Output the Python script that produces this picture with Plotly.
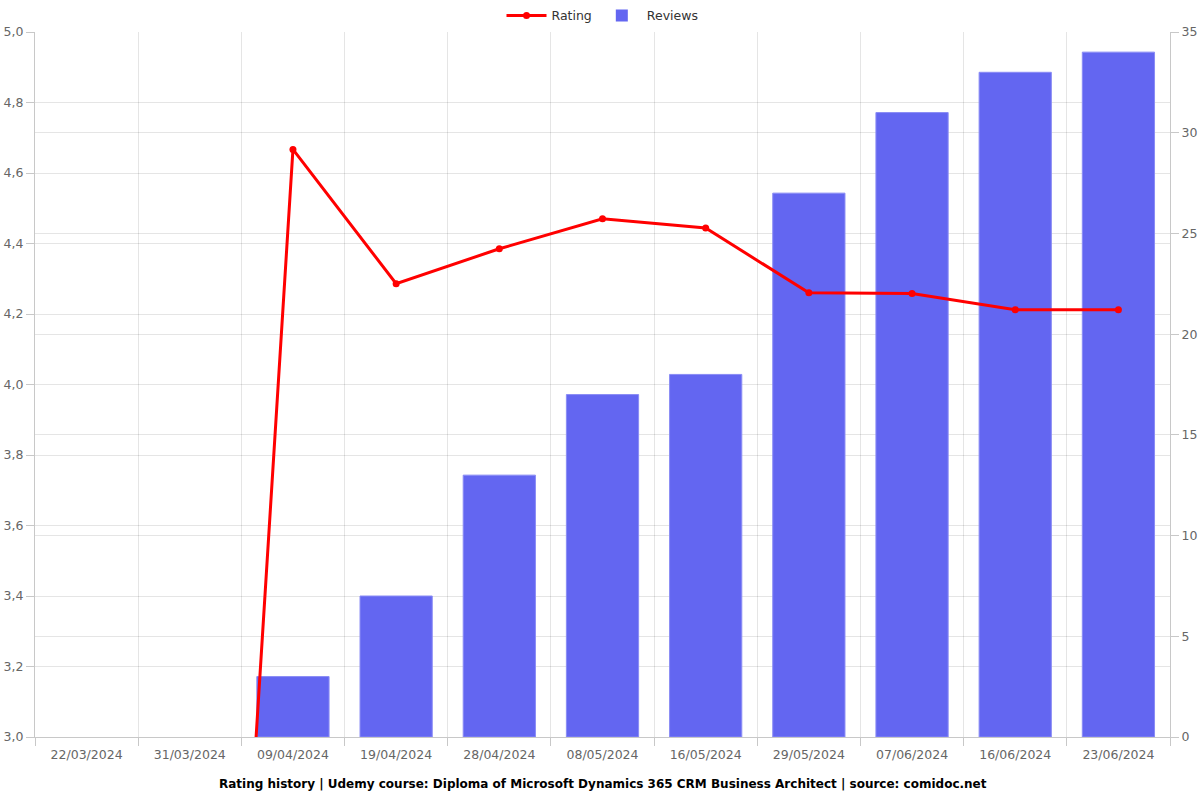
import plotly.graph_objects as go

dates = ["22/03/2024", "31/03/2024", "09/04/2024", "19/04/2024", "28/04/2024",
         "08/05/2024", "16/05/2024", "29/05/2024", "07/06/2024", "16/06/2024", "23/06/2024"]
reviews = [0, 0, 3, 7, 13, 17, 18, 27, 31, 33, 34]
rating = [0, 0, 4.667, 4.286, 4.385, 4.47, 4.444, 4.26, 4.258, 4.212, 4.212]

title_text = "Rating history | Udemy course: Diploma of Microsoft Dynamics 365 CRM Business Architect | source: comidoc.net"

grid = "rgba(0,0,0,0.1)"
axis_line = "#c8c8c8"
tick_font = dict(family="DejaVu Sans", size=12.5, color="#666666")

fig = go.Figure()
fig.add_trace(go.Bar(
    x=dates, y=reviews, name="Reviews", yaxis="y",
    marker=dict(color="#6366f1",
                line=dict(color="#8a8cf5", width=[0 if v == 0 else 1 for v in reviews])),
    width=0.7,
))
fig.add_trace(go.Scatter(
    x=dates, y=rating, name="Rating", yaxis="y2", mode="lines+markers",
    line=dict(color="#ff0000", width=3),
    marker=dict(color="#ff0000", size=7),
    cliponaxis=True,
))

fig.update_layout(
    width=1200, height=800,
    margin=dict(l=35, r=30, t=32, b=63, autoexpand=False),
    paper_bgcolor="white", plot_bgcolor="white",
    separators=", ",
    font=dict(family="DejaVu Sans", size=12, color="#666666"),
    showlegend=True,
    legend=dict(orientation="h", x=0.5, xanchor="center", y=1.0227, yanchor="middle",
                font=dict(family="DejaVu Sans", size=12.5, color="#333333"),
                traceorder="reversed", itemwidth=40),
    xaxis=dict(
        type="category", range=[-0.5, len(dates) - 0.5], autorange=False,
        tickson="boundaries", ticks="outside", ticklen=8,
        tickcolor=axis_line, showgrid=True, gridcolor=grid,
        showline=True, linecolor=axis_line, tickfont=tick_font,
        automargin=False, ticklabelstandoff=6,
    ),
    yaxis=dict(
        side="right", range=[0, 35], dtick=5, tick0=0,
        showgrid=True, gridcolor=grid, ticks="outside", ticklen=8,
        tickcolor=axis_line, showline=True, linecolor=axis_line,
        tickfont=tick_font, zeroline=False, automargin=False,
    ),
    yaxis2=dict(
        side="left", overlaying="y", range=[3, 5], dtick=0.2, tick0=3,
        tickformat=".1f",
        showgrid=True, gridcolor=grid, ticks="outside", ticklen=8,
        tickcolor=axis_line, showline=True, linecolor=axis_line,
        tickfont=tick_font, zeroline=False, automargin=False,
    ),
    annotations=[dict(
        text="<b>" + title_text + "</b>", xref="paper", yref="paper",
        x=0.5, y=-0.067, xanchor="center", yanchor="middle", showarrow=False,
        font=dict(family="DejaVu Sans", size=12, color="#000000"),
    )],
)

fig.write_html("out.html")
